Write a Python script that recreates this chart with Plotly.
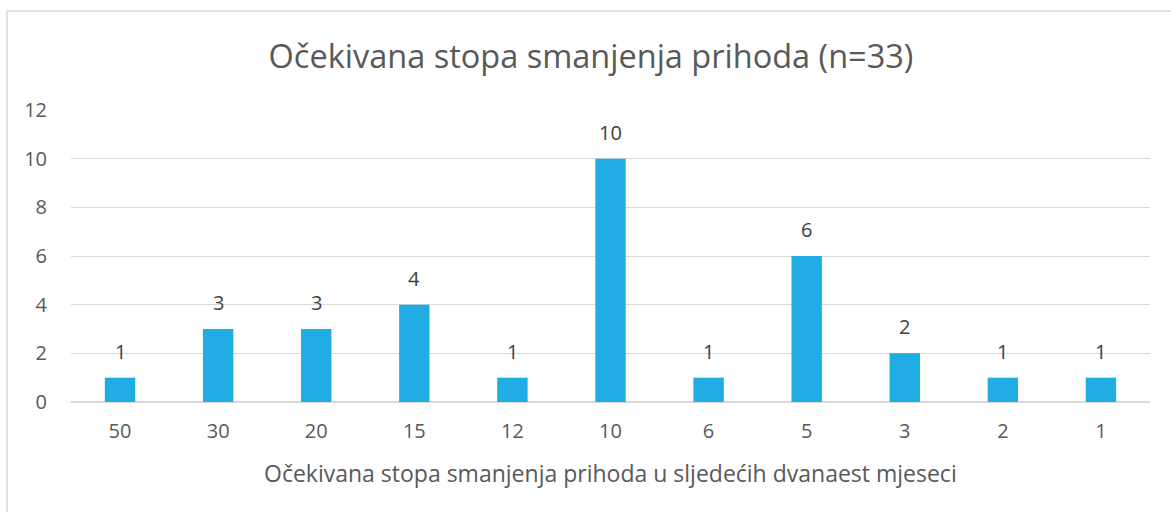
import plotly.graph_objects as go

# Chart data
categories = ["50", "30", "20", "15", "12", "10", "6", "5", "3", "2", "1"]
counts = [1, 3, 3, 4, 1, 10, 1, 6, 2, 1, 1]

title_text = "Očekivana stopa smanjenja prihoda (n=33)"
x_title = "Očekivana stopa smanjenja prihoda u sljedećih dvanaest mjeseci"

W, H = 1171, 512
ml, mr, mt, mb = 71, 21, 110, 110
pw, ph = W - ml - mr, H - mt - mb

font_family = "Open Sans, Noto Sans, DejaVu Sans, sans-serif"
text_grey = "#595959"

fig = go.Figure(
    go.Bar(
        x=categories,
        y=counts,
        marker=dict(color="#1FADE4", line=dict(width=0)),
        cliponaxis=False,
    )
)

# Value labels above each bar (category axis positions are the indices)
for i, v in enumerate(counts):
    fig.add_annotation(
        x=i, y=v, xref="x", yref="y",
        text=str(v), showarrow=False,
        yanchor="bottom", yshift=11,
        font=dict(size=20, color="#404040", family=font_family),
    )

# Horizontal axis title
fig.add_annotation(
    x=0.5, xref="paper", y=-(473 - (H - mb)) / ph, yref="paper",
    text=x_title, showarrow=False, xanchor="center", yanchor="middle",
    font=dict(size=23, color=text_grey, family=font_family),
)

# Outer chart border (light grey frame)
bx0 = (7 - ml) / pw
bx1 = (1175 - ml) / pw
by1 = (H - mb - 11) / ph
by0 = (H - mb - 520) / ph
fig.add_shape(
    type="rect", xref="paper", yref="paper",
    x0=bx0, x1=bx1, y0=by0, y1=by1,
    line=dict(color="#D9D9D9", width=1.5),
    fillcolor="rgba(0,0,0,0)", layer="below",
)

fig.update_layout(
    width=W, height=H,
    margin=dict(l=ml, r=mr, t=mt, b=mb, pad=0),
    paper_bgcolor="white",
    plot_bgcolor="white",
    bargap=0.69,
    showlegend=False,
    title=dict(
        text=title_text,
        x=591 / W, xanchor="center",
        y=1 - 57 / H, yanchor="middle",
        font=dict(size=32.5, color=text_grey, family=font_family),
    ),
    xaxis=dict(
        type="category",
        categoryorder="array",
        categoryarray=categories,
        range=[-0.5, len(categories) - 0.5],
        showgrid=False,
        showline=False,
        ticks="",
        tickfont=dict(size=20, color=text_grey, family=font_family),
        ticklabelstandoff=15,
    ),
    yaxis=dict(
        range=[0, 12],
        dtick=2,
        showgrid=True,
        gridcolor="#D9D9D9",
        gridwidth=1,
        zeroline=True,
        zerolinecolor="#D9D9D9",
        zerolinewidth=1.5,
        showline=False,
        ticks="",
        tickfont=dict(size=20, color=text_grey, family=font_family),
        ticklabelstandoff=23,
    ),
)

fig.write_html("out.html")
